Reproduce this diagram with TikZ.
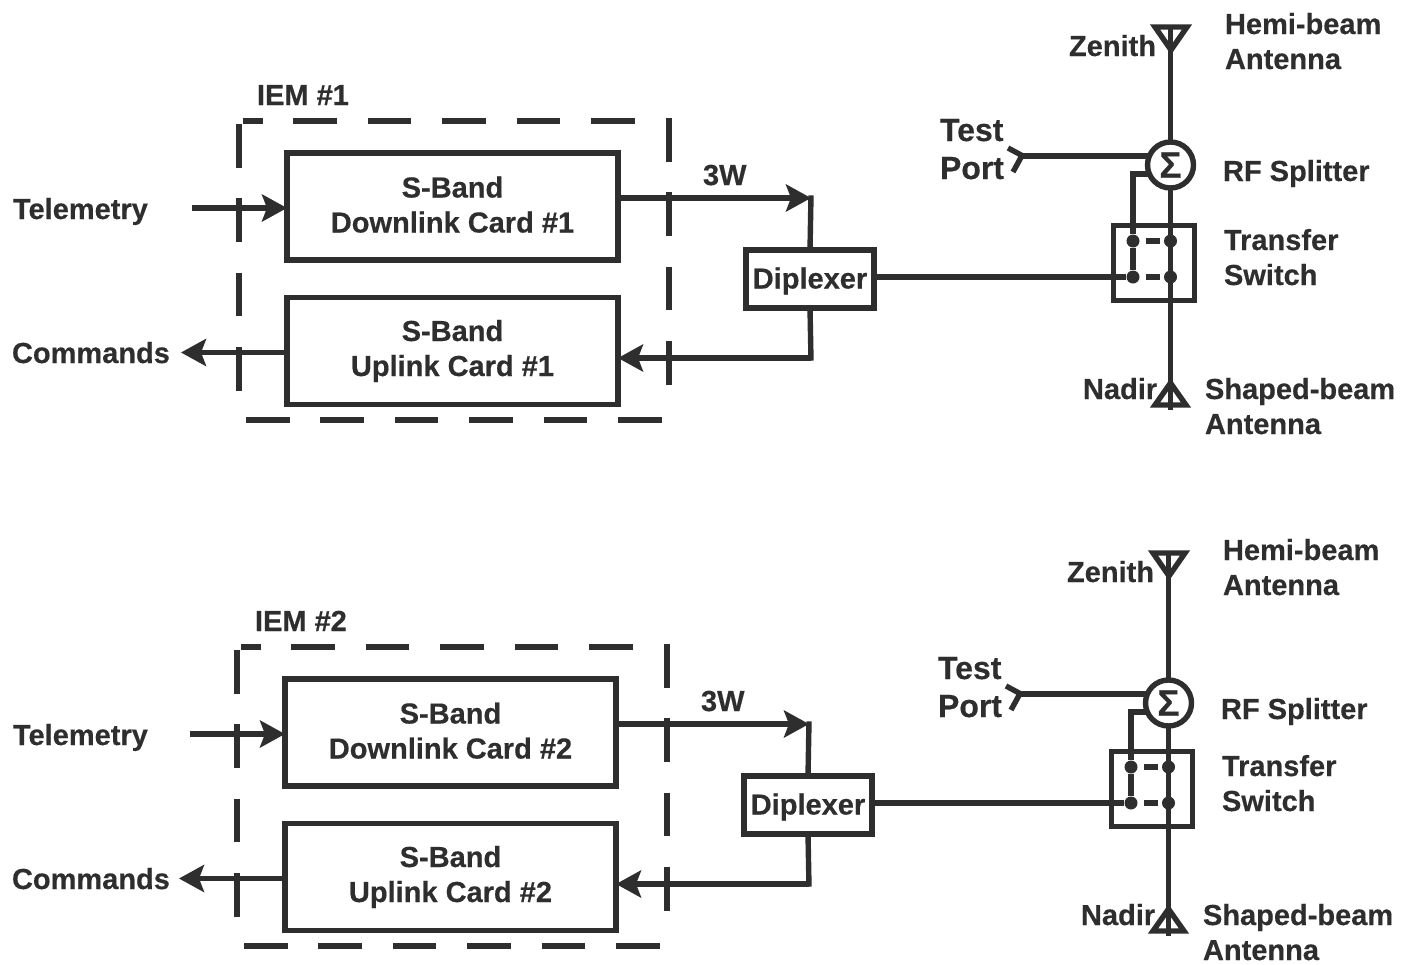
\documentclass[tikz,border=0pt]{standalone}
\usepackage{fontspec}
\setmainfont{Liberation Sans}[BoldFeatures={FakeBold=0.4}]
\usetikzlibrary{arrows.meta}
\definecolor{ink}{HTML}{2E2E2E}
\tikzset{
  sigline/.style={draw=ink, line width=5.4pt},
  sigarrow/.style={sigline, -{Stealth[length=25pt,width=27pt,inset=5pt]}},
  iemdash/.style={draw=ink, line width=5.4pt, dash pattern=on 43.5pt off 30.9pt},
  labeltext/.style={text=ink, font=\fontsize{29}{35}\selectfont\bfseries, inner sep=0pt, outer sep=0pt},
  sidelabel/.style={labeltext, align=left, anchor=base west},
  portlabel/.style={sidelabel, font=\fontsize{32}{38}\selectfont\bfseries},
  cardbox/.style={labeltext, sigline, line width=5.6pt, align=center, minimum width=331pt, minimum height=107pt},
  dipbox/.style={labeltext, sigline, text height=21pt, text depth=2pt, minimum width=128pt, minimum height=58pt},
  splitbox/.style={labeltext, sigline, circle, font=\fontsize{37}{37}\selectfont\bfseries, minimum size=46pt},
  swbox/.style={draw=ink, line width=5pt, inner sep=0pt, minimum width=81pt, minimum height=75pt},
  swdot/.style={fill=ink, circle, inner sep=0pt, minimum size=13pt}
}

\begin{document}
\begin{tikzpicture}[x=1pt,y=-1pt]
\useasboundingbox (0,0) rectangle (1403,964);
\fill[white] (0,0) rectangle (1403,964);
\foreach \n/\dx/\dy/\sy in {1/0/0/0,2/-2/526/12}{
\begin{scope}[shift={(\dx,\dy)}]
% dashed module outline
\node[sidelabel] (iem\n) at (257,105) {IEM \#\n};
\draw[iemdash, dash phase=24pt] (243,121) -- (637,121);
\draw[iemdash] (239,124) -- (239,391);
\draw[iemdash] (669,118) -- (669,391);
\draw[iemdash] (246,420) -- (662,420);
% cards
\node[cardbox] (down\n) at (452.5,206.5) {S-Band\\Downlink Card \#\n\rule[-4pt]{0pt}{4pt}};
\node[cardbox] (up\n) at (452.5,351) {S-Band\\Uplink Card \#\n};
\node[dipbox] (dip\n) at (810,279) {Diplexer};
\node[sidelabel] (tel\n) at (13-\dx,219) {Telemetry};
\node[sidelabel] (cmd\n) at (12-\dx,363) {Commands};
\node[sidelabel] (pwr\n) at (703,185) {3W};
\coordinate (telin\n) at (192,208);
\coordinate (cmdout\n) at (181,352.5);
\coordinate (dlout\n) at (811,198);
\coordinate (ulin\n) at (811,358);
\draw[sigarrow] (telin\n) -- (telin\n -| down\n.west);
\draw[sigarrow] (cmdout\n -| up\n.west) -- (cmdout\n);
\draw[sigarrow] (dlout\n -| down\n.east) -- (dlout\n);
\draw[sigline] ([yshift=2.7pt]dlout\n) -- (dip\n.north);
\draw[sigline] (dip\n.south) -- ([yshift=-2.7pt]ulin\n);
\draw[sigarrow] (ulin\n) -- (ulin\n -| up\n.east);
% antenna side
\node[splitbox] (split\n) at (1170.5,165+\sy) {Σ};
\node[swbox] (sw\n) at (1153.5,262.5) {};
\node[swdot] (swa\n) at (1133,241) {};
\node[swdot] (swb\n) at (1170.5,241) {};
\node[swdot] (swc\n) at (1133,277) {};
\node[swdot] (swd\n) at (1170.5,277) {};
\coordinate (zen\n) at (1170.5,26);
\coordinate (nad\n) at (1170.5,410);
\coordinate (port\n) at (1021,156+\sy);
\coordinate (bend\n) at (1133,174+\sy);
\draw[sigline] (zen\n) -- (split\n.north);
\draw[sigline] (split\n.south) -- (nad\n);
\draw[sigline] (port\n) -- (port\n -| split\n.west);
\draw[sigline] (swa\n) -- (bend\n) -- (bend\n -| split\n.west);
\draw[sigline] (swa\n) -- (swc\n);
\draw[sigline] (dip\n.east |- swc\n) -- (swc\n);
\draw[sigline] (1146,241) -- (1160,241);
\draw[sigline] (1146,277) -- (1160,277);
\draw[sigline] (1008,148+\sy) -- (1022,155.5+\sy) -- (1013,172+\sy);
\draw[sigline] (1155,27) -- (1187,27) -- (1171,50) -- cycle;
\draw[sigline] (1155,405) -- (1186,405) -- (1170.5,383) -- cycle;
\node[sidelabel] (zenl\n) at (1069,56) {Zenith};
\node[sidelabel] (nadl\n) at (1083,399) {Nadir};
\node[sidelabel] (hemi\n) at (1225,69) {Hemi-beam\\Antenna};
\node[portlabel] (testl\n) at (940,179+\sy) {Test\\Port};
\node[sidelabel] (splitl\n) at (1223,181+\sy) {RF Splitter};
\node[sidelabel] (swl\n) at (1224,285) {Transfer\\Switch};
\node[sidelabel] (shape\n) at (1205,434) {Shaped-beam\\Antenna};
\end{scope}
}
\end{tikzpicture}
\end{document}
